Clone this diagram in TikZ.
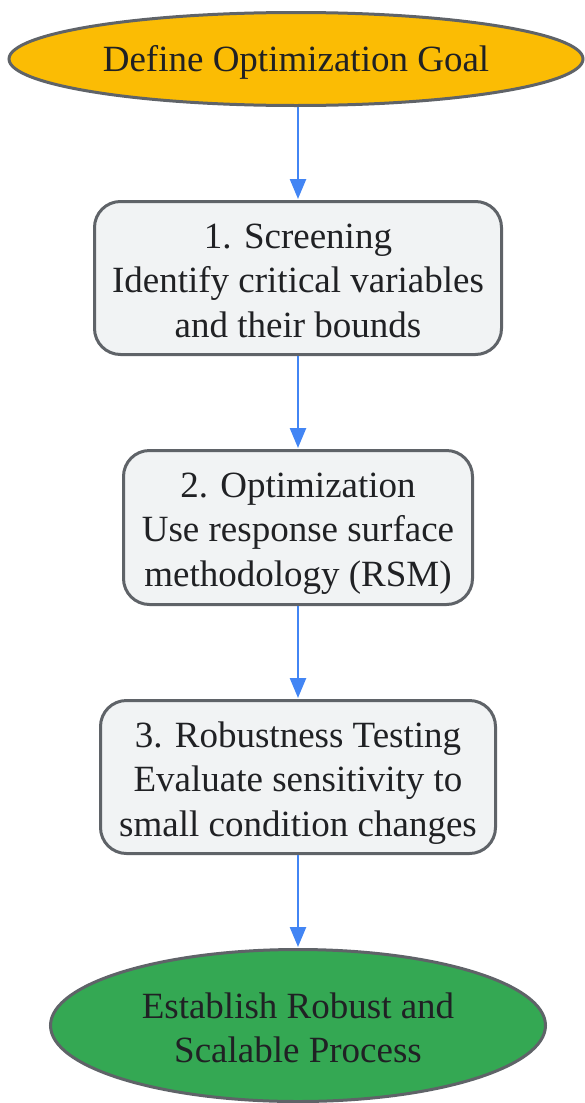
\documentclass[tikz,border=0pt]{standalone}
\usepackage{fontspec}
\setmainfont{Liberation Serif}
\newfontfamily\diagfont{Liberation Serif}
\usetikzlibrary{shapes.geometric,arrows.meta}
\definecolor{goalyellow}{HTML}{FBBC04}
\definecolor{endgreen}{HTML}{34A853}
\definecolor{boxfill}{HTML}{F1F3F4}
\definecolor{edgegray}{HTML}{5F6368}
\definecolor{flowblue}{HTML}{4285F4}
\definecolor{txt}{HTML}{202124}
% text block whose first baseline sits #1 above the node centre
\newcommand\celltext[2]{\raisebox{#1}[0pt][0pt]{\begin{tabular}[t]{@{}c@{}}#2\end{tabular}}}
\begin{document}
\begin{tikzpicture}[x=1pt,y=1pt,
  every node/.style={font=\diagfont\fontsize{37}{44.5}\selectfont, text=txt},
  stepbox/.style={draw=edgegray, line width=3pt, fill=boxfill, rounded corners=26pt, inner sep=0pt},
  oval/.style={draw=edgegray, line width=3pt, ellipse, inner sep=0pt},
  flow/.style={draw=flowblue, line width=2.5pt, -{Triangle[length=20pt,width=16pt]}, shorten >=1pt}]
\useasboundingbox (0,0) rectangle (584,-1103);
\node[oval, fill=goalyellow, minimum width=574pt, minimum height=93pt] (goal) at (296,-59) {\celltext{-12.5pt}{Define Optimization Goal}};
\node[stepbox, minimum width=407pt, minimum height=153pt] (s1) at (298,-278) {\celltext{30pt}{1. Screening\\Identify critical variables\\and their bounds}};
\node[stepbox, minimum width=349pt, minimum height=154pt] (s2) at (298,-527.5) {\celltext{30.5pt}{2. Optimization\\Use response surface\\methodology (RSM)}};
\node[stepbox, minimum width=395pt, minimum height=153pt] (s3) at (298,-777) {\celltext{30pt}{3. Robustness Testing\\Evaluate sensitivity to\\small condition changes}};
\node[oval, fill=endgreen, minimum width=495pt, minimum height=152pt] (done) at (298,-1025.5) {\celltext{7.5pt}{Establish Robust and\\Scalable Process}};
\draw[flow] (goal.south -| s1.north) -- (s1.north);
\draw[flow] (s1) -- (s2);
\draw[flow] (s2) -- (s3);
\draw[flow] (s3) -- (done);
\end{tikzpicture}
\end{document}
